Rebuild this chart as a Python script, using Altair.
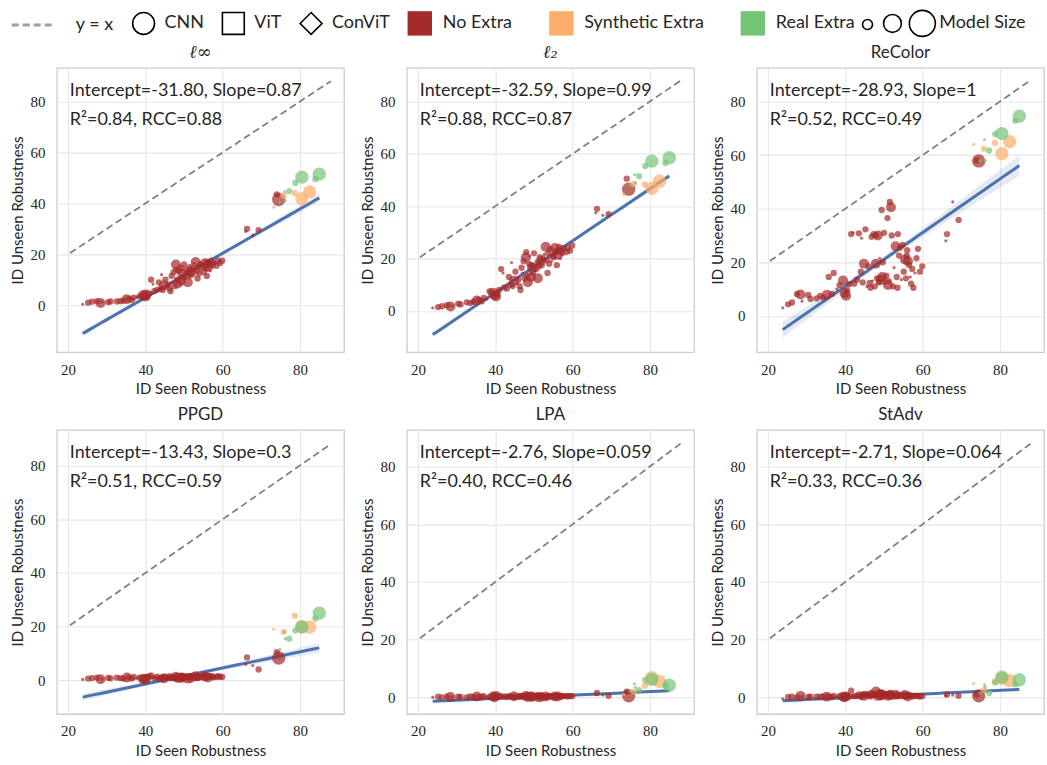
import altair as alt
import pandas as pd
import numpy as np

# ---------------- data ----------------
panel_titles = ["ℓ∞", "ℓ₂", "ReColor", "PPGD", "LPA", "StAdv"]
intercepts = [-31.80, -32.59, -28.93, -13.43, -2.76, -2.71]
slopes = [0.87, 0.99, 1.0, 0.30, 0.059, 0.064]
intercept_txt = ["-31.80", "-32.59", "-28.93", "-13.43", "-2.76", "-2.71"]
slope_txt = ["0.87", "0.99", "1", "0.3", "0.059", "0.064"]
r2_txt = ["0.84", "0.88", "0.52", "0.51", "0.40", "0.33"]
rcc_txt = ["0.88", "0.87", "0.49", "0.59", "0.46", "0.36"]
y_domains = [[-18.4, 93.2], [-15.7, 92.8], [-13.5, 92.5], [-12.6, 93.3], [-5.8, 92.7], [-5.8, 92.7]]
x_domain = [17.1, 91.4]
ci_end = [1.5, 1.2, 3.8, 1.8, 0.4, 0.4]
ci_mid = [0.5, 0.4, 1.2, 0.5, 0.15, 0.15]
fit_range = [23.8, 85.0]
ref_line = [20.5, 88.0]
size_legend_values = [50, 160, 340]

# "No Extra" models: seen robustness, model size, unseen robustness per attack
ne_x = [23.8, 25.2, 26.2, 27.5, 28.4, 28.8, 30.4, 31.0, 32.6, 33.5, 34.3, 35.2, 35.7, 36.5, 37.0,
        37.8, 38.5, 39.4, 39.8, 40.2, 40.5, 41.0, 41.5, 42.0, 42.3, 43.0, 43.5, 44.0, 44.5, 44.8,
        45.2, 45.6, 46.0, 46.3, 46.8, 47.0, 47.3, 47.6, 47.9, 48.2, 48.4, 48.7, 48.9, 49.2, 49.4,
        49.7, 50.0, 50.3, 50.6, 50.9, 51.2, 51.5, 51.8, 52.0, 52.3, 52.6, 53.0, 53.3, 53.6, 53.9,
        54.2, 54.5, 54.8, 55.1, 55.4, 55.7, 56.0, 56.2, 56.5, 56.8, 57.0, 57.3, 57.6, 58.0, 58.4,
        58.8, 59.3, 59.9, 51.0, 49.5, 46.5, 53.5, 44.2, 48.0, 55.9, 66.3, 66.0, 67.8, 69.3, 74.5, 74.0]
ne_size = [5, 20, 20, 20, 50, 5, 20, 20, 20, 20, 20, 50, 20, 20, 20,
           5, 20, 50, 50, 50, 20, 20, 20, 5, 20, 20, 20, 20, 20, 50,
           20, 5, 20, 20, 20, 5, 20, 20, 50, 20, 50, 20, 5, 50, 20,
           20, 20, 5, 20, 20, 20, 20, 50, 20, 20, 5, 50, 20, 20, 20,
           20, 5, 20, 20, 50, 20, 20, 50, 20, 5, 20, 20, 20, 5, 20,
           20, 20, 20, 50, 50, 20, 20, 5, 20, 20, 20, 5, 5, 20, 90, 20]
ne_linf = [0.4, 1.0, 1.4, 1.6, 0.9, 1.3, 1.2, 1.5, 1.5, 1.6, 1.8, 2.4, 2.5, 2.1, 3.0,
           3.2, 3.5, 4.0, 3.4, 4.2, 3.0, 4.5, 10.0, 8.3, 5.5, 6.0, 9.0, 6.5, 6.0, 7.8,
           10.0, 7.5, 8.0, 6.5, 11.5, 9.0, 13.0, 7.5, 16.0, 10.0, 8.5, 13.5, 15.5, 9.5, 14.5,
           11.0, 16.0, 10.5, 12.5, 14.0, 11.5, 15.0, 13.0, 12.0, 14.5, 16.5, 17.0, 13.5, 15.0, 12.5,
           16.0, 14.0, 15.5, 13.0, 16.5, 14.5, 17.0, 15.0, 16.0, 13.5, 17.5, 15.5, 16.5, 17.0, 15.5,
           17.5, 16.5, 17.5, 9.0, 12.5, 5.5, 10.5, 12.0, 14.0, 11.5, 30.0, 29.0, 27.5, 29.5, 41.5, 43.5]
ne_l2 = [1.2, 1.5, 1.8, 2.2, 1.7, 2.0, 2.8, 2.5, 3.3, 3.0, 3.5, 4.0, 4.2, 3.7, 5.0,
         4.5, 7.5, 7.0, 6.0, 5.5, 6.5, 8.0, 16.0, 14.5, 9.0, 8.5, 13.0, 10.0, 9.5, 11.5,
         15.0, 10.5, 12.0, 9.5, 16.5, 14.5, 19.0, 12.5, 20.5, 13.5, 11.0, 18.0, 21.0, 13.0, 17.5,
         14.5, 22.0, 15.5, 16.0, 18.5, 17.0, 20.5, 19.0, 17.5, 20.0, 21.5, 24.5, 19.5, 22.0, 18.0,
         23.5, 19.0, 21.0, 20.5, 24.0, 22.5, 23.0, 21.5, 24.5, 20.0, 23.0, 22.0, 24.0, 23.5, 22.5,
         24.0, 23.0, 25.0, 12.5, 16.5, 8.0, 14.5, 18.5, 22.5, 17.5, 39.0, 37.5, 36.5, 37.0, 46.5, 50.5]
ne_recolor = [3.0, 4.3, 5.0, 8.2, 8.0, 5.5, 7.8, 6.3, 6.5, 7.5, 6.8, 7.9, 14.5, 8.2, 16.0,
              10.0, 11.5, 13.2, 8.5, 7.5, 9.5, 11.8, 30.5, 31.0, 12.0, 13.5, 30.8, 16.5, 12.5, 19.5,
              32.3, 11.0, 18.5, 12.3, 29.5, 13.0, 30.5, 11.0, 19.5, 14.0, 30.0, 12.5, 21.5, 13.5, 39.5,
              20.0, 31.0, 12.0, 15.0, 36.5, 13.0, 42.5, 40.5, 30.0, 11.0, 18.0, 26.0, 14.5, 30.5, 22.5,
              25.5, 13.5, 26.5, 16.5, 21.0, 14.0, 24.5, 20.5, 19.0, 14.5, 12.0, 17.5, 10.5, 16.0, 21.5,
              25.0, 16.5, 18.5, 11.5, 14.5, 10.5, 10.5, 29.0, 30.0, 22.5, 30.5, 28.0, 42.5, 35.8, 57.8, 58.0]
ne_ppgd = [0.3, 0.6, 0.8, 1.0, 0.4, 0.5, 0.9, 0.7, 1.0, 0.8, 0.6, 1.0, 1.1, 0.6, 1.2,
           0.8, 1.0, 0.5, 0.3, 0.6, 1.2, 1.4, 1.8, 1.0, 0.8, 1.3, 0.6, 1.0, 0.9, 0.7,
           1.2, 0.8, 1.0, 1.5, 0.9, 1.1, 1.2, 0.7, 1.3, 0.9, 0.8, 1.0, 1.1, 0.9, 1.5,
           0.7, 1.3, 0.8, 1.5, 1.1, 1.2, 1.4, 0.9, 1.3, 1.0, 1.2, 1.5, 1.1, 1.3, 0.9,
           1.4, 1.0, 1.6, 1.2, 1.4, 1.1, 1.5, 1.0, 1.3, 1.2, 1.6, 1.3, 1.1, 1.4, 1.2,
           1.5, 1.3, 1.2, 0.6, 1.0, 0.7, 0.8, 1.1, 1.2, 1.0, 8.5, 6.0, 5.5, 4.0, 8.3, 10.5]
ne_lpa = [0.0, 0.2, 0.0, 0.3, 0.1, 0.2, 0.2, 0.1, 0.0, 0.3, 0.1, 0.3, 0.1, 0.2, 0.4,
          0.2, 0.1, 0.3, 0.0, 0.5, 0.2, 0.4, 0.3, 0.2, 0.3, 0.1, 0.4, 0.3, 0.2, 0.4,
          0.1, 0.3, 0.2, 0.5, 0.3, 0.0, 0.4, 0.2, 0.5, 0.3, 0.1, 0.2, 0.4, 0.3, 0.2,
          0.0, 0.4, 0.5, 0.3, 0.2, 0.4, 0.3, 0.1, 0.5, 0.2, 0.4, 0.3, 0.1, 0.4, 0.2,
          0.5, 0.3, 0.2, 0.4, 0.3, 0.1, 0.5, 0.3, 0.4, 0.2, 0.4, 0.3, 0.5, 0.2, 0.4,
          0.3, 0.5, 0.4, 0.1, 0.2, 0.3, 0.2, 0.3, 0.2, 0.4, 1.5, 1.0, 0.8, 0.5, 0.5, 2.0]
ne_stadv = [-0.5, 0.1, 0.2, 0.0, 0.5, 0.3, 0.1, 0.2, 0.2, 0.2, 0.3, 0.2, 0.3, 0.0, 0.5,
            0.2, 0.4, 0.2, 0.0, 0.3, 0.5, 0.3, 2.3, 0.6, 0.4, 0.5, 1.0, 0.2, 0.8, 0.5,
            0.9, 0.3, 1.2, 0.6, 1.5, 0.4, 1.0, 0.8, 2.0, 0.7, 0.5, 1.8, 1.2, 0.6, 1.7,
            0.8, 1.3, 0.5, 1.0, 0.9, 0.4, 1.5, 0.7, 1.2, 0.5, 0.3, 0.9, 0.6, 0.8, 0.4,
            0.7, 0.3, 0.9, 0.5, 0.8, 0.4, 0.6, 0.3, 0.7, 0.2, 0.5, 0.6, 0.3, 0.4, 0.5,
            0.4, 0.3, 0.4, 0.5, 0.8, 0.3, 0.5, 1.1, 1.0, 0.6, 1.0, 0.5, 0.8, 0.5, 0.5, 1.0]

# models trained with extra data
ex_x = [74.8, 73.2, 75.8, 76.0, 77.2, 76.2, 78.7, 78.8, 82.5, 80.5, 80.5, 84.0, 85.0]
ex_size = [5, 5, 20, 5, 20, 5, 20, 20, 90, 90, 90, 20, 90]
ex_type = ["Real Extra", "Synthetic Extra", "Synthetic Extra", "Real Extra", "Real Extra", "Real Extra",
           "Synthetic Extra", "Real Extra", "Synthetic Extra", "Synthetic Extra", "Real Extra",
           "Real Extra", "Real Extra"]
ex_linf = [40.5, 38.5, 43.0, 44.5, 44.8, 41.0, 44.0, 48.0, 44.5, 41.8, 50.3, 49.5, 51.5]
ex_l2 = [48.0, 44.5, 48.5, 52.0, 51.5, 49.0, 48.3, 55.3, 49.5, 46.8, 57.2, 56.5, 58.5]
ex_recolor = [57.8, 64.0, 62.3, 65.8, 61.7, 58.0, 64.5, 67.8, 65.0, 60.5, 68.0, 72.8, 74.5]
ex_ppgd = [11.5, 19.0, 18.0, 18.0, 15.5, 15.5, 24.0, 18.5, 19.8, 20.0, 19.8, 23.0, 25.0]
ex_lpa = [2.0, 1.0, 2.0, 4.7, 2.5, 3.5, 4.0, 6.0, 5.5, 6.8, 6.2, 4.0, 4.2]
ex_stadv = [1.5, 4.8, 2.5, 4.3, 1.5, 3.5, 5.5, 5.2, 5.8, 6.5, 7.0, 4.5, 6.1]

ne_y = [ne_linf, ne_l2, ne_recolor, ne_ppgd, ne_lpa, ne_stadv]
ex_y = [ex_linf, ex_l2, ex_recolor, ex_ppgd, ex_lpa, ex_stadv]

cat_domain = ["No Extra", "Synthetic Extra", "Real Extra"]
cat_colors = ["#a52a2a", "#fdae6b", "#74c476"]
arch_domain = ["CNN", "ViT", "ConViT"]

FONT = "Lato"
SERIF = "Liberation Serif"
TXT = "#262626"
W, H = 288, 285


def panel(i):
    pts = pd.DataFrame({
        "seen": ne_x + ex_x,
        "unseen": ne_y[i] + ex_y[i],
        "size": ne_size + ex_size,
        "extra": ["No Extra"] * len(ne_x) + ex_type,
        "arch": ["CNN"] * (len(ne_x) + len(ex_x)),
        "order": list(range(len(ne_x) + len(ex_x))),
    })
    xs = np.linspace(fit_range[0], fit_range[1], 41)
    xc = 50.0
    hw = np.sqrt(ci_mid[i] ** 2 + (ci_end[i] ** 2 - ci_mid[i] ** 2) * ((xs - xc) / (fit_range[1] - xc)) ** 2)
    yfit = intercepts[i] + slopes[i] * xs
    fit = pd.DataFrame({"seen": xs, "fit": yfit, "lo": yfit - hw, "hi": yfit + hw})
    ref = pd.DataFrame({"seen": ref_line, "unseen": ref_line, "ref": ["y = x", "y = x"]})

    xscale = alt.Scale(domain=x_domain, nice=False, zero=False)
    yscale = alt.Scale(domain=y_domains[i], nice=False, zero=False)
    xax = alt.Axis(values=[20, 40, 60, 80], title="ID Seen Robustness")
    yax = alt.Axis(values=[0, 20, 40, 60, 80], title="ID Unseen Robustness")

    band = alt.Chart(fit).mark_area(color="#4c72b0", opacity=0.15).encode(
        x=alt.X("seen:Q", scale=xscale, axis=xax),
        y=alt.Y("lo:Q", scale=yscale, axis=yax),
        y2="hi:Q",
    )
    refl = alt.Chart(ref).mark_line(color="#808080", strokeWidth=1.8).encode(
        x=alt.X("seen:Q", scale=xscale, axis=xax),
        y=alt.Y("unseen:Q", scale=yscale, axis=yax),
        strokeDash=alt.StrokeDash(
            "ref:N",
            scale=alt.Scale(domain=["y = x"], range=[[7, 4]]),
            legend=alt.Legend(orient="none", legendX=-47, legendY=-66, title=None,
                              symbolType="stroke", symbolSize=1800, symbolStrokeColor="#a0a0a0",
                              symbolStrokeWidth=3, symbolDash=[12, 7], labelOffset=20),
        ),
    )
    line = alt.Chart(fit).mark_line(color="#4c72b0", strokeWidth=3).encode(
        x=alt.X("seen:Q", scale=xscale, axis=xax),
        y=alt.Y("fit:Q", scale=yscale, axis=yax),
    )
    points = alt.Chart(pts).mark_point(filled=True, opacity=0.7).encode(
        x=alt.X("seen:Q", scale=xscale, axis=xax),
        y=alt.Y("unseen:Q", scale=yscale, axis=yax),
        color=alt.Color("extra:N", scale=alt.Scale(domain=cat_domain, range=cat_colors),
                        legend=alt.Legend(orient="none", legendX=351, legendY=-58, title=None,
                                          direction="horizontal", symbolType="square",
                                          symbolSize=600, symbolOpacity=1, columnPadding=36,
                                          labelOffset=10)),
        shape=alt.Shape("arch:N", scale=alt.Scale(domain=arch_domain, range=["circle", "square", "diamond"]),
                        legend=alt.Legend(orient="none", legendX=75, legendY=-57, title=None,
                                          direction="horizontal", symbolSize=480,
                                          symbolFillColor="white", symbolStrokeColor="black",
                                          symbolStrokeWidth=1.6, symbolOpacity=1, columnPadding=14,
                                          labelOffset=9)),
        size=alt.Size("size:Q", scale=alt.Scale(domain=[0, 100], range=[0, 200]),
                      legend=alt.Legend(orient="none", legendX=804, legendY=-59, title=None,
                                        direction="horizontal", values=size_legend_values,
                                        labelExpr="datum.value == 340 ? 'Model Size' : ''",
                                        symbolFillColor="white", symbolStrokeColor="black",
                                        symbolStrokeWidth=1.6, symbolOpacity=1, columnPadding=0,
                                        labelOffset=3)),
        order=alt.Order("order:Q"),
    )
    ann = pd.DataFrame({
        "l1": ["Intercept=" + intercept_txt[i] + ", Slope=" + slope_txt[i]],
        "l2": ["R²=" + r2_txt[i] + ", RCC=" + rcc_txt[i]],
    })
    t1 = alt.Chart(ann).mark_text(align="left", baseline="alphabetic", font=FONT, fontSize=18,
                                  color=TXT).encode(x=alt.value(13), y=alt.value(28), text="l1:N")
    t2 = alt.Chart(ann).mark_text(align="left", baseline="alphabetic", font=FONT, fontSize=18,
                                  color=TXT).encode(x=alt.value(13), y=alt.value(57), text="l2:N")
    if i < 2:
        title = alt.TitleParams(panel_titles[i], font="DejaVu Serif", fontStyle="italic", fontSize=18,
                                fontWeight="normal", color=TXT, offset=6)
    else:
        title = alt.TitleParams(panel_titles[i], font=FONT, fontSize=17, fontWeight="normal",
                                color=TXT, offset=6)
    return alt.layer(band, refl, line, points, t1, t2).properties(width=W, height=H, title=title)


row1 = alt.hconcat(panel(0), panel(1), panel(2), spacing=15)
row2 = alt.hconcat(panel(3), panel(4), panel(5), spacing=15)
chart = alt.vconcat(row1, row2, spacing=7).properties(
    padding={"left": 10, "top": 1, "right": 2, "bottom": 2},
    background="white",
).configure_view(
    stroke="#cccccc", strokeWidth=1.3
).configure_axis(
    grid=True, gridColor="#e6e6e6", gridWidth=1.1, domain=False, ticks=False,
    labelFont=SERIF, labelFontSize=15, labelColor=TXT, labelPadding=10,
    titleFont=FONT, titleFontSize=15, titleFontWeight="normal", titleColor=TXT, titlePadding=5,
).configure_axisY(labelPadding=12, titlePadding=4).configure_legend(
    labelFont=FONT, labelFontSize=18, labelColor=TXT
)

chart.save("out.html", embed_options={"renderer": "svg", "actions": False})
